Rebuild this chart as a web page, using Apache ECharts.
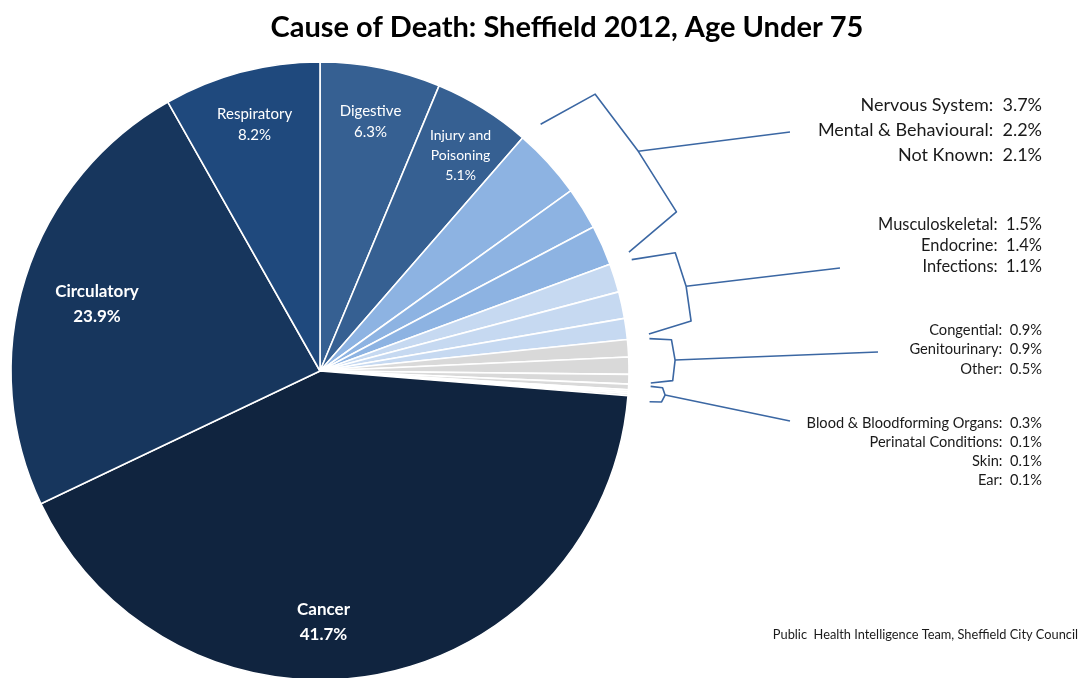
<!DOCTYPE html>
<html>
<head>
<meta charset="utf-8">
<script src="https://cdn.jsdelivr.net/npm/echarts@6/dist/echarts.min.js"></script>
<style>
  html, body { margin: 0; padding: 0; background: #fff; }
  #chart { width: 1085px; height: 678px; }
</style>
</head>
<body>
<div id="chart"></div>
<script>
// Causes of death, Sheffield 2012, age under 75 (percent of deaths), clockwise from 12 o'clock
const causes = [
  'Digestive', 'Injury and Poisoning', 'Nervous System', 'Mental & Behavioural', 'Not Known',
  'Musculoskeletal', 'Endocrine', 'Infections', 'Congential', 'Genitourinary', 'Other',
  'Blood & Bloodforming Organs', 'Perinatal Conditions', 'Skin', 'Ear',
  'Cancer', 'Circulatory', 'Respiratory'
];
const shares = [6.3, 5.1, 3.7, 2.2, 2.1, 1.5, 1.4, 1.1, 0.9, 0.9, 0.5, 0.3, 0.1, 0.1, 0.1, 41.7, 23.9, 8.2];
const sliceColors = [
  '#366092', '#366092', '#8db3e2', '#8db3e2', '#8db3e2',
  '#c6d9f1', '#c6d9f1', '#c6d9f1', '#d9d9d9', '#d9d9d9', '#d9d9d9',
  '#d9d9d9', '#d9d9d9', '#d9d9d9', '#d9d9d9',
  '#10243f', '#17365d', '#1f497d'
];
// Causes labelled inside their slice
const insideLabelled = ['Digestive', 'Injury and Poisoning', 'Cancer', 'Circulatory', 'Respiratory'];
const boldLabelled = ['Cancer', 'Circulatory'];
// Small causes grouped and labelled beside the pie, each group with a brace
const groups = [
  { first: 2, last: 4 },
  { first: 5, last: 7 },
  { first: 8, last: 10 },
  { first: 11, last: 14 }
];

// Layout
const CX = 320, CY = 371, R = 309;
const FONT = 'Lato, "Open Sans", sans-serif';
const groupStyle = [
  { right: 1042, top: 105, step: 25, size: 18, arm: 62, pad: [0.014, 0.014], anchor: [790, 132] },
  { right: 1042, top: 225, step: 21, size: 16.4, arm: 44, pad: [0.01, 0.01], anchor: [840, 268] },
  { right: 1042, top: 330, step: 19.5, size: 14.7, arm: 22, pad: [0.004, 0.006], anchor: [878, 352] },
  { right: 1042, top: 423, step: 19, size: 14.6, arm: 12, pad: [0.004, -0.013], anchor: [790, 421] }
];
const braceColor = '#3b67a3';

const total = shares.reduce((a, b) => a + b, 0);
const cum = [0];
shares.forEach((v, i) => cum.push(cum[i] + v));
const angleAt = c => c / total * 2 * Math.PI;          // clockwise from top
const pt = (ang, r) => [CX + r * Math.sin(ang), CY - r * Math.cos(ang)];

const fmtPct = v => v.toFixed(1) + '%';

const chart = echarts.init(document.getElementById('chart'), null, { renderer: 'canvas' });

const pieData = causes.map((name, i) => ({
  name, value: shares[i],
  itemStyle: { color: sliceColors[i] }
}));

const labelData = causes.map((name, i) => {
  const inside = insideLabelled.includes(name);
  const bold = boldLabelled.includes(name);
  return {
    name, value: shares[i],
    label: {
      show: inside,
      fontSize: bold ? 17 : (name === 'Injury and Poisoning' ? 14 : 15),
      fontWeight: bold ? 'bold' : 'normal',
      lineHeight: bold ? 25 : (name === 'Injury and Poisoning' ? 20 : 21)
    }
  };
});

// Braces and side labels
const graphics = [];
groups.forEach((g, gi) => {
  const st = groupStyle[gi];
  const a0 = angleAt(cum[g.first]) + st.pad[0];
  const a1 = angleAt(cum[g.last + 1]) - st.pad[1];
  const am = (a0 + a1) / 2;
  const u = [Math.sin(am), -Math.cos(am)];
  const e0 = pt(a0, R + 22), e1 = pt(a1, R + 22);
  const mid = [(e0[0] + e1[0]) / 2, (e0[1] + e1[1]) / 2];
  const k = 0.92;
  const c0 = [mid[0] + (e0[0] - mid[0]) * k + st.arm * u[0], mid[1] + (e0[1] - mid[1]) * k + st.arm * u[1]];
  const c1 = [mid[0] + (e1[0] - mid[0]) * k + st.arm * u[0], mid[1] + (e1[1] - mid[1]) * k + st.arm * u[1]];
  const tip = [(c0[0] + c1[0]) / 2 + 3 * u[0], (c0[1] + c1[1]) / 2 + 3 * u[1]];
  graphics.push({
    type: 'polyline', silent: true,
    shape: { points: [e0, c0, tip, c1, e1] },
    style: { stroke: braceColor, lineWidth: 1.6, fill: null, lineJoin: 'round' }
  });
  graphics.push({
    type: 'line', silent: true,
    shape: { x1: tip[0], y1: tip[1], x2: st.anchor[0], y2: st.anchor[1] },
    style: { stroke: braceColor, lineWidth: 1.6 }
  });
  for (let i = g.first; i <= g.last; i++) {
    graphics.push({
      type: 'text', silent: true,
      x: st.right, y: st.top + (i - g.first) * st.step,
      style: {
        text: causes[i] + ':  ' + fmtPct(shares[i]),
        font: st.size + 'px ' + FONT,
        fill: '#1a1a1a', align: 'right', verticalAlign: 'middle'
      }
    });
  }
});

graphics.push({
  type: 'text', silent: true, x: 1078, y: 635,
  style: {
    text: 'Public  Health Intelligence Team, Sheffield City Council',
    font: '12.8px ' + FONT, fill: '#1a1a1a', align: 'right', verticalAlign: 'middle'
  }
});

// Moves for the in-slice labels, placed nearer the centre line of their slices
const labelShift = {
  'Circulatory': [22, 10], 'Cancer': [-43, -2], 'Injury and Poisoning': [5, 3],
  'Digestive': [0, 3], 'Respiratory': [0, 2]
};

chart.setOption({
  animation: false,
  backgroundColor: '#fff',
  title: {
    text: 'Cause of Death: Sheffield 2012, Age Under 75',
    left: 562, top: 8, textAlign: 'center',
    textStyle: { fontFamily: FONT, fontWeight: 'bold', fontSize: 29, color: '#000' }
  },
  series: [
    {
      type: 'pie',
      center: [CX, CY], radius: [0, R],
      startAngle: 90, clockwise: true,
      avoidLabelOverlap: false, minAngle: 0,
      silent: true,
      label: { show: false }, labelLine: { show: false },
      itemStyle: { borderColor: '#fff', borderWidth: 1.6 },
      data: pieData
    },
    {
      // transparent ring that carries the in-slice labels
      type: 'pie',
      center: [CX, CY], radius: [R - 110, R],
      startAngle: 90, clockwise: true,
      avoidLabelOverlap: false, minAngle: 0,
      silent: true,
      itemStyle: { color: 'rgba(0,0,0,0)', borderWidth: 0 },
      labelLine: { show: false },
      label: {
        position: 'inside', color: '#fff', fontFamily: FONT,
        formatter: p => p.name.replace(' and ', ' and\n') + '\n' + fmtPct(p.value)
      },
      labelLayout: p => {
        const s = labelShift[causes[p.dataIndex]];
        return s ? { dx: s[0], dy: s[1] } : {};
      },
      data: labelData
    }
  ],
  graphic: graphics
});
</script>
</body>
</html>
